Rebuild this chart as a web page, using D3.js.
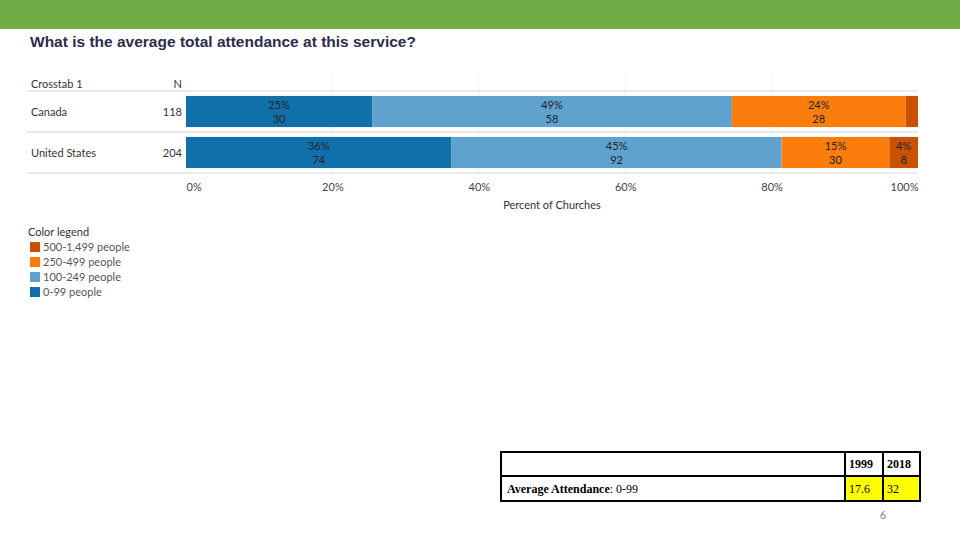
<!DOCTYPE html>
<html><head><meta charset="utf-8">
<script src="https://cdn.jsdelivr.net/npm/d3@7"></script>
<style>body{margin:0;background:#fff}svg{display:block}</style>
</head><body>
<script>
const countries = ["Canada", "United States"];
const totals = [118, 204];
const categories = ["0-99 people", "100-249 people", "250-499 people", "500-1,499 people"];
const canadaCounts = [30, 58, 28, 2];
const usCounts = [74, 92, 30, 8];
const xTicks = [0, 0.2, 0.4, 0.6, 0.8, 1.0];
const colors = ["#1170aa", "#5fa2ce", "#fc7d0b", "#c85200"];
const tableYears = ["1999", "2018"];
const tableValues = ["17.6", "32"];

const counts = [canadaCounts, usCounts];
const W = 960, H = 540;
const svg = d3.select("body").append("svg").attr("width", W).attr("height", H);
const font = "Lato, 'Open Sans', sans-serif";

svg.append("rect").attr("x", 0).attr("y", 0).attr("width", W).attr("height", 29).attr("fill", "#70ad47");

svg.append("text").attr("x", 30).attr("y", 47).text("What is the average total attendance at this service?")
  .attr("font-family", "'Liberation Sans', Arial, sans-serif").attr("font-weight", "bold")
  .attr("font-size", 15.5).attr("fill", "#2c2c4c");

const x = d3.scaleLinear().domain([0, 1]).range([186, 918]);
const y = d3.scaleBand().domain(countries).range([91, 173]).paddingInner(0.24).paddingOuter(0.12);

// gridlines
svg.append("g").selectAll("line").data(xTicks.slice(1, -1)).join("line")
  .attr("x1", d => x(d)).attr("x2", d => x(d)).attr("y1", 75).attr("y2", 173)
  .attr("stroke", "#f2f2f2").attr("stroke-width", 1);

// header
svg.append("text").attr("x", 31).attr("y", 88).text("Crosstab 1").attr("font-family", font).attr("font-size", 11).attr("fill", "#333");
svg.append("text").attr("x", 182).attr("y", 88).attr("text-anchor", "end").text("N").attr("font-family", font).attr("font-size", 11).attr("fill", "#333");

// row lines
[91, 132, 173].forEach(yy => svg.append("line").attr("x1", 27).attr("x2", 918).attr("y1", yy).attr("y2", yy)
  .attr("stroke", "#d4d4d4").attr("stroke-width", 1.2));

countries.forEach((c, i) => {
  const cy = y(c) + y.bandwidth() / 2;
  svg.append("text").attr("x", 31).attr("y", cy + 4).text(c).attr("font-family", font).attr("font-size", 11).attr("fill", "#333");
  svg.append("text").attr("x", 182).attr("y", cy + 4).attr("text-anchor", "end").text(totals[i]).attr("font-family", font).attr("font-size", 11).attr("fill", "#333");
  let cum = 0;
  const segs = counts[i].map((v, k) => { const s = {k, v, p: v / totals[i], start: cum}; cum += v / totals[i]; return s; });
  const g = svg.append("g");
  g.selectAll("rect").data(segs).join("rect")
    .attr("x", d => x(d.start)).attr("width", d => x(d.start + d.p) - x(d.start))
    .attr("y", y(c)).attr("height", y.bandwidth()).attr("fill", d => colors[d.k]);
  const lab = segs.filter(d => d.p >= 0.03);
  g.selectAll("text.p").data(lab).join("text").attr("class", "p")
    .attr("x", d => x(d.start + d.p / 2)).attr("y", cy - 3).attr("text-anchor", "middle")
    .text(d => Math.round(d.p * 100) + "%").attr("font-family", font).attr("font-size", 11).attr("fill", "#222");
  g.selectAll("text.c").data(lab).join("text").attr("class", "c")
    .attr("x", d => x(d.start + d.p / 2)).attr("y", cy + 11).attr("text-anchor", "middle")
    .text(d => d.v).attr("font-family", font).attr("font-size", 11).attr("fill", "#222");
});

// axis
const axis = d3.axisBottom(x).tickValues(xTicks).tickFormat(d3.format(".0%")).tickSize(0);
const ag = svg.append("g").attr("transform", "translate(0,180)").call(axis);
ag.select(".domain").remove();
ag.selectAll("text").attr("font-family", font).attr("font-size", 11).attr("fill", "#444")
  .attr("text-anchor", d => d === 0 ? "start" : d === 1 ? "end" : "middle");
svg.append("text").attr("x", (x(0) + x(1)) / 2).attr("y", 209).attr("text-anchor", "middle")
  .text("Percent of Churches").attr("font-family", font).attr("font-size", 11).attr("fill", "#333");

// legend
svg.append("text").attr("x", 28).attr("y", 236).text("Color legend").attr("font-family", font).attr("font-size", 11).attr("fill", "#333");
const legOrder = categories.map((c, k) => k).reverse();
const lg = svg.append("g").selectAll("g").data(legOrder).join("g")
  .attr("transform", (d, i) => `translate(30,${247 + i * 15})`);
lg.append("rect").attr("x", 0).attr("y", -5).attr("width", 10).attr("height", 10).attr("fill", d => colors[d]);
lg.append("text").attr("x", 13).attr("y", 4).text(d => categories[d]).attr("font-family", font).attr("font-size", 11).attr("fill", "#555");

// table
const tg = svg.append("g");
const tx = [501, 845, 883, 920], ty = [452, 476, 501];
tg.append("rect").attr("x", tx[1]).attr("y", ty[1]).attr("width", tx[3] - tx[1]).attr("height", ty[2] - ty[1]).attr("fill", "#ffff00");
tg.append("rect").attr("x", tx[0]).attr("y", ty[0]).attr("width", tx[3] - tx[0]).attr("height", ty[2] - ty[0])
  .attr("fill", "none").attr("stroke", "#000").attr("stroke-width", 2);
tg.append("line").attr("x1", tx[0]).attr("x2", tx[3]).attr("y1", ty[1]).attr("y2", ty[1]).attr("stroke", "#000").attr("stroke-width", 2);
[tx[1], tx[2]].forEach(xx => tg.append("line").attr("x1", xx).attr("x2", xx).attr("y1", ty[0]).attr("y2", ty[2]).attr("stroke", "#000").attr("stroke-width", 2));
const serif = "'Liberation Serif', 'Times New Roman', serif";
tableYears.forEach((yr, i) => {
  tg.append("text").attr("x", tx[i + 1] + 4).attr("y", 468).text(yr).attr("font-family", serif).attr("font-weight", "bold").attr("font-size", 12).attr("fill", "#000");
  tg.append("text").attr("x", tx[i + 1] + 4).attr("y", 493).text(tableValues[i]).attr("font-family", serif).attr("font-size", 12).attr("fill", "#000");
});
const rl = tg.append("text").attr("x", 507).attr("y", 493).attr("font-family", serif).attr("font-size", 12).attr("fill", "#000");
rl.append("tspan").attr("font-weight", "bold").text("Average Attendance");
rl.append("tspan").text(": 0-99");

svg.append("text").attr("x", 883).attr("y", 519).attr("text-anchor", "middle").text("6").attr("font-family", font).attr("font-size", 11).attr("fill", "#888");
</script>
</body></html>
